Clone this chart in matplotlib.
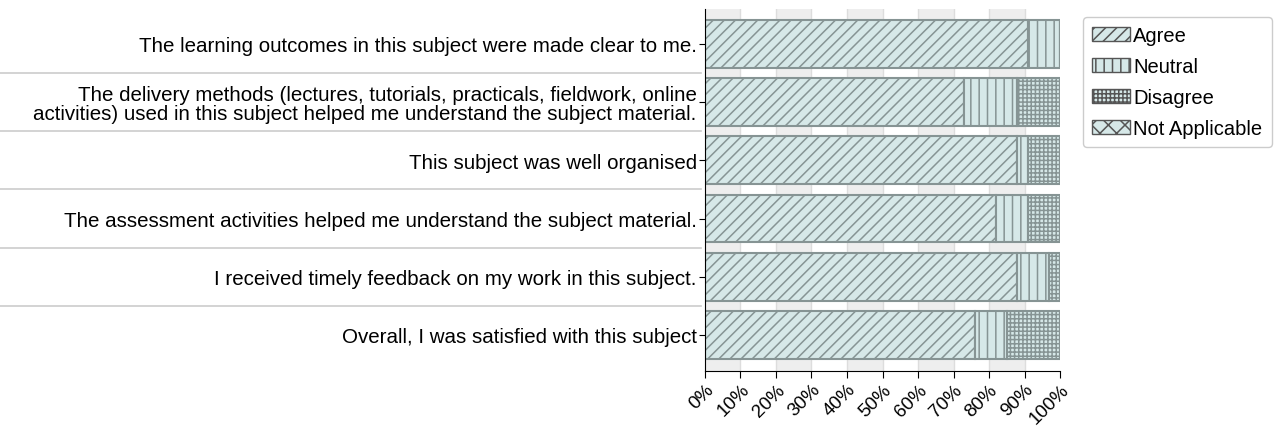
import numpy as np
import matplotlib.pyplot as plt
import matplotlib.transforms as mtransforms
from matplotlib.patches import Patch

plt.rcParams['font.family'] = ['Liberation Sans Narrow', 'Liberation Sans', 'DejaVu Sans']
plt.rcParams['hatch.linewidth'] = 1.1

questions = [
    "The learning outcomes in this subject were made clear to me.",
    "The delivery methods (lectures, tutorials, practicals, fieldwork, online\nactivities) used in this subject helped me understand the subject material.",
    "This subject was well organised",
    "The assessment activities helped me understand the subject material.",
    "I received timely feedback on my work in this subject.",
    "Overall, I was satisfied with this subject",
]
agree = [91, 73, 88, 82, 88, 76]
neutral = [9, 15, 3, 9, 9, 9]
disagree = [0, 12, 9, 9, 3, 15]
not_applicable = [0, 0, 0, 0, 0, 0]

series_names = ["Agree", "Neutral", "Disagree", "Not Applicable"]
hatches = ["///", "||", "++++", "xx"]
fill = "#d6e8e8"
edge = "#869494"

fig = plt.figure(figsize=(12.81, 4.27), dpi=100)
ax = fig.add_axes([705 / 1281, 1 - 372 / 427, 355 / 1281, 362 / 427])

# striped background
for k in range(0, 100, 20):
    ax.axvspan(k, k + 10, color="#eeeeee", zorder=0, lw=0)
for k in range(10, 100, 10):
    ax.axvline(k, color="#dddddd", lw=1, zorder=0.5)

y = np.arange(len(questions))
left = np.zeros(len(questions))
for vals, name, h in zip([agree, neutral, disagree, not_applicable], series_names, hatches):
    vals = np.array(vals, dtype=float)
    ax.barh(y, vals, left=left, height=0.82, color=fill, edgecolor=edge,
            hatch=h, linewidth=1.5, zorder=2)
    left += vals

ax.set_xlim(0, 100)
ax.set_ylim(5.62, -0.6)
ax.set_yticks(y)
ax.set_yticklabels(questions, fontsize=14.8, linespacing=1.0)
ax.set_xticks(np.arange(0, 101, 10))
ax.set_xticklabels([f"{v}%" for v in range(0, 101, 10)], fontsize=13.5,
                   rotation=45, ha="right", rotation_mode="anchor")
ax.tick_params(axis="y", length=4, pad=2)
ax.tick_params(axis="x", length=5, pad=2)
for s in ["top", "right"]:
    ax.spines[s].set_visible(False)

# separators between the question labels
trans = mtransforms.blended_transform_factory(ax.transAxes, ax.transData)
for i in range(len(questions) - 1):
    ax.plot([-705 / 355, -0.01], [i + 0.5, i + 0.5], color="#cccccc", lw=1.2,
            transform=trans, clip_on=False)

handles = [Patch(facecolor=fill, edgecolor="#555555", hatch=h, label=n)
           for n, h in zip(series_names, hatches)]
leg = fig.legend(handles=handles, loc="upper left",
                 bbox_to_anchor=(1073 / 1281, 1 - 8 / 427), fontsize=14.5,
                 handlelength=1.9, handleheight=0.7, handletextpad=0.15,
                 labelspacing=0.6, borderpad=0.45, fancybox=True,
                 edgecolor="#cccccc", framealpha=1)

fig.savefig("out.png", dpi=100)
